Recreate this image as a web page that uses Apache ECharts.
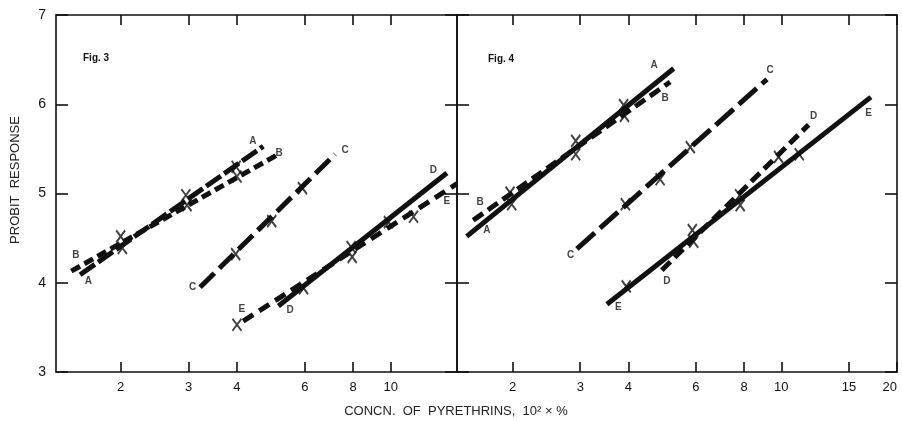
<!DOCTYPE html>
<html>
<head>
<meta charset="utf-8">
<script src="https://cdn.jsdelivr.net/npm/echarts@6/dist/echarts.min.js"></script>
<style>
html,body{margin:0;padding:0;background:#fff;}
#chart{width:902px;height:422px;}
</style>
</head>
<body>
<div id="chart"></div>
<script>
// ---- data (concentration 10^2 x %, probit) ----
const fig3Ticks = [2, 3, 4, 6, 8, 10];
const fig4Ticks = [2, 3, 4, 6, 8, 10, 15, 20];
const fig3Range = [1.36, 14.85];
const fig4Range = [1.434, 20];
const yTicks = [3, 4, 5, 6, 7];

// regression lines: [start, end]
const fig3LineA = [[1.57, 4.09], [4.68, 5.53]];
const fig3LineB = [[1.49, 4.13], [5.07, 5.43]];
const fig3LineC = [[3.21, 3.95], [7.18, 5.44]];
const fig3LineD = [[5.12, 3.74], [13.98, 5.23]];
const fig3LineE = [[4.15, 3.57], [14.85, 5.11]];

const fig4LineA = [[1.52, 4.52], [5.25, 6.40]];
const fig4LineB = [[1.58, 4.70], [5.14, 6.25]];
const fig4LineC = [[2.94, 4.38], [9.18, 6.28]];
const fig4LineD = [[4.89, 4.14], [11.78, 5.77]];
const fig4LineE = [[3.52, 3.76], [17.1, 6.08]];

// observed points (X marks)
const fig3Points = [[2.0, 4.52], [2.02, 4.39], [2.95, 4.98], [2.97, 4.87], [3.98, 5.30], [4.0, 5.19],
  [3.97, 4.32], [4.92, 4.69], [5.91, 5.06],
  [4.0, 3.53], [5.95, 3.94], [7.9, 4.40], [7.95, 4.29], [9.87, 4.68], [11.46, 4.74]];
const fig4Points = [[1.97, 5.01], [1.99, 4.88], [2.92, 5.59], [2.92, 5.44], [3.89, 5.99], [3.91, 5.87],
  [3.93, 4.88], [4.84, 5.16], [5.80, 5.52],
  [3.95, 3.96], [5.87, 4.59], [5.92, 4.46], [7.79, 4.98], [7.82, 4.87], [9.84, 5.41], [11.14, 5.44]];

// curve letters: [conc, probit, letter]
const fig3Letters = [[4.40, 5.58, 'A'], [5.14, 5.45, 'B'], [1.53, 4.31, 'B'], [1.65, 4.02, 'A'],
  [3.07, 3.95, 'C'], [7.62, 5.48, 'C'], [4.12, 3.70, 'E'], [5.49, 3.69, 'D'], [12.9, 5.26, 'D'], [13.98, 4.91, 'E']];
const fig4Letters = [[4.67, 6.44, 'A'], [4.99, 6.07, 'B'], [1.648, 4.90, 'B'], [1.716, 4.59, 'A'],
  [2.83, 4.31, 'C'], [9.36, 6.38, 'C'], [3.77, 3.72, 'E'], [5.04, 4.02, 'D'], [12.13, 5.87, 'D'], [16.87, 5.90, 'E']];

// ---- build ----
const L = v => Math.log10(v);
const tx = pts => pts.map(p => [L(p[0]), p[1]]);
const INK = '#111';

const fig3Lines = [['A', fig3LineA, [18, 4]], ['B', fig3LineB, [10, 5]], ['C', fig3LineC, [20, 7]],
  ['D', fig3LineD, 'solid'], ['E', fig3LineE, [12, 7]]];
const fig4Lines = [['A', fig4LineA, 'solid'], ['B', fig4LineB, [12, 6]], ['C', fig4LineC, [24, 7]],
  ['D', fig4LineD, [12, 6]], ['E', fig4LineE, 'solid']];

const series = [];
function addPanel(lines, points, letters, gi) {
  lines.forEach(([name, seg, dash]) => {
    series.push({
      type: 'line', name: 'Fig' + gi + name, xAxisIndex: gi * 2, yAxisIndex: gi * 2,
      data: tx(seg), symbol: 'none', silent: true,
      lineStyle: { color: INK, width: 5, type: dash, cap: 'butt' }
    });
  });
  series.push({
    type: 'scatter', xAxisIndex: gi * 2, yAxisIndex: gi * 2, data: tx(points),
    symbol: 'circle', symbolSize: 11, itemStyle: { color: '#fff' }, silent: true
  });
  series.push({
    type: 'scatter', xAxisIndex: gi * 2, yAxisIndex: gi * 2, data: tx(points),
    symbol: 'path://M0,0L8,11M8,0L0,11', symbolSize: [9, 12], symbolKeepAspect: false,
    itemStyle: { color: 'transparent', borderColor: INK, borderWidth: 2 }, silent: true
  });
  series.push({
    type: 'scatter', xAxisIndex: gi * 2, yAxisIndex: gi * 2,
    data: letters.map(l => ({ value: [L(l[0]), l[1]], name: l[2] })),
    symbolSize: 1, itemStyle: { color: 'transparent' }, silent: true,
    label: { show: true, position: 'inside', formatter: p => p.name, color: INK,
      fontFamily: 'Liberation Sans', fontWeight: 'bold', fontSize: 10 }
  });
}
addPanel(fig3Lines, fig3Points, fig3Letters, 0);
addPanel(fig4Lines, fig4Points, fig4Letters, 1);

const axisLine = { show: true, onZero: false, lineStyle: { color: INK, width: 1.6 } };
function xAx(gi, range, ticks, pos) {
  const vals = ticks.map(L);
  const lab = { show: pos === 'bottom', customValues: vals, margin: 9,
      formatter: v => String(Math.round(Math.pow(10, v))),
      color: INK, fontFamily: 'Liberation Sans', fontSize: 13 };
  if (gi === 1) lab.alignMaxLabel = 'right';
  return {
    type: 'value', gridIndex: gi, position: pos, min: L(range[0]), max: L(range[1]),
    axisLine: axisLine, splitLine: { show: false },
    axisTick: { show: true, inside: true, length: 10, customValues: vals, lineStyle: { color: INK, width: 1.6 } },
    axisLabel: lab
  };
}
function yAx(gi, pos, labels) {
  return {
    type: 'value', gridIndex: gi, position: pos, min: 3, max: 7, interval: 1,
    axisLine: axisLine, splitLine: { show: false },
    axisTick: { show: true, inside: true, length: 12, lineStyle: { color: INK, width: 1.6 } },
    axisLabel: { show: labels, margin: 10, color: INK, fontFamily: 'Liberation Sans', fontSize: 14,
      formatter: v => yTicks.includes(v) ? String(v) : '' }
  };
}

const option = {
  animation: false,
  backgroundColor: '#fff',
  grid: [
    { left: 56, right: 445, top: 15, bottom: 50, outerBoundsMode: 'none' },
    { left: 457, right: 5, top: 15, bottom: 50, outerBoundsMode: 'none' }
  ],
  xAxis: [xAx(0, fig3Range, fig3Ticks, 'bottom'), xAx(0, fig3Range, fig3Ticks, 'top'),
          xAx(1, fig4Range, fig4Ticks, 'bottom'), xAx(1, fig4Range, fig4Ticks, 'top')],
  yAxis: [yAx(0, 'left', true), yAx(0, 'right', false), yAx(1, 'left', false), yAx(1, 'right', false)],
  series: series,
  graphic: [
    { type: 'text', x: 15, y: 180, rotation: Math.PI / 2,
      style: { text: 'PROBIT  RESPONSE', fill: '#222', font: '13px "Liberation Sans"', align: 'center', verticalAlign: 'middle' } },
    { type: 'text', x: 456, y: 411,
      style: { text: 'CONCN.  OF  PYRETHRINS,  10² × %', fill: '#222', font: '13px "Liberation Sans"', align: 'center', verticalAlign: 'middle' } },
    { type: 'text', x: 83, y: 58,
      style: { text: 'Fig. 3', fill: INK, font: 'bold 10px "Liberation Sans"', align: 'left', verticalAlign: 'middle' } },
    { type: 'text', x: 488, y: 59,
      style: { text: 'Fig. 4', fill: INK, font: 'bold 10px "Liberation Sans"', align: 'left', verticalAlign: 'middle' } }
  ]
};

const chart = echarts.init(document.getElementById('chart'), null, { renderer: 'canvas' });
chart.setOption(option);
</script>
</body>
</html>
